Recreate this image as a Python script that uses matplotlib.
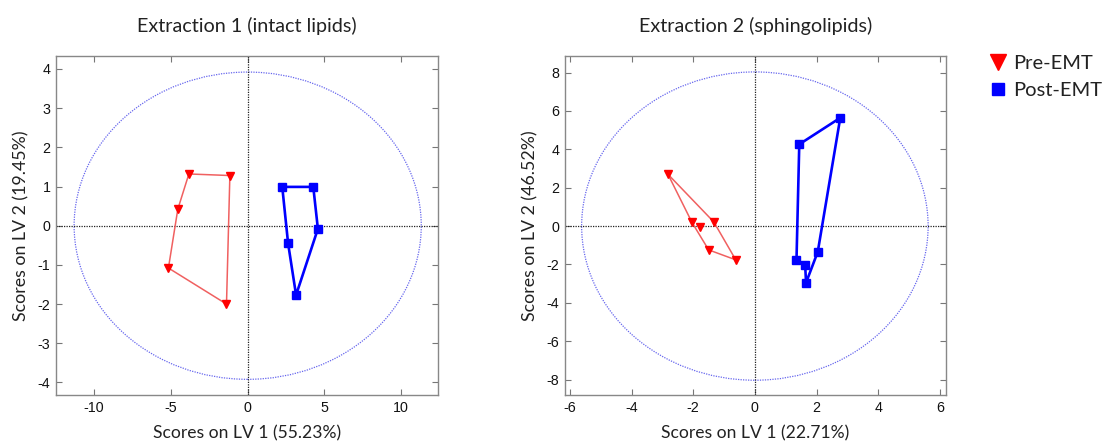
import matplotlib
matplotlib.use("Agg")
import matplotlib.pyplot as plt
from matplotlib.patches import Ellipse
from matplotlib.lines import Line2D

# ---- data ----
titles = ["Extraction 1 (intact lipids)", "Extraction 2 (sphingolipids)"]
xlabels = ["Scores on LV 1 (55.23%)", "Scores on LV 1 (22.71%)"]
ylabels = ["Scores on LV 2 (19.45%)", "Scores on LV 2 (46.52%)"]
legend_labels = ["Pre-EMT", "Post-EMT"]

# Extraction 1 (points listed in outline order)
pre1_x = [-3.83, -1.16, -1.38, -5.16, -4.55]
pre1_y = [1.32, 1.28, -2.00, -1.08, 0.42]
post1_x = [2.25, 4.27, 4.57, 3.15, 2.63]
post1_y = [0.99, 0.99, -0.08, -1.77, -0.45]

# Extraction 2 (outline order) + interior points
pre2_x = [-2.82, -1.33, -0.62, -1.50, -2.04]
pre2_y = [2.70, 0.21, -1.76, -1.24, 0.19]
pre2_in_x = [-1.79]
pre2_in_y = [-0.05]
post2_x = [1.44, 2.77, 2.04, 1.66, 1.63, 1.35]
post2_y = [4.26, 5.64, -1.34, -2.95, -2.01, -1.75]

# confidence ellipse half-axes
ell1 = (11.3, 3.92)
ell2 = (5.62, 8.03)

xticks1 = [-10, -5, 0, 5, 10]
yticks1 = [-4, -3, -2, -1, 0, 1, 2, 3, 4]
xticks2 = [-6, -4, -2, 0, 2, 4, 6]
yticks2 = [-8, -6, -4, -2, 0, 2, 4, 6, 8]
xlim1, ylim1 = (-12.48, 12.39), (-4.32, 4.33)
xlim2, ylim2 = (-6.16, 6.20), (-8.80, 8.86)

LABEL_FONT = ["Lato", "DejaVu Sans"]
TICK_FONT = ["Liberation Sans", "DejaVu Sans"]
RED = "#ff0000"
RED_LINE = "#f06060"
BLUE = "#0000ff"

fig = plt.figure(figsize=(11.04, 4.41), dpi=100)
ax1 = fig.add_axes([56/1104, 1-395/441, (438-56)/1104, (395-56)/441])
ax2 = fig.add_axes([565/1104, 1-395/441, (946-565)/1104, (395-56)/441])


def closed(v):
    return list(v) + [v[0]]


def panel(ax, prex, prey, postx, posty, ell, xt, yt, xl, yl, title, xlab, ylab,
          inx=None, iny=None):
    ax.add_patch(Ellipse((0, 0), 2*ell[0], 2*ell[1], fill=False,
                         edgecolor="#6666ee", linestyle=(0, (1, 1)), linewidth=0.9))
    ax.axhline(0, color="#222222", linestyle=(0, (1, 1)), linewidth=0.9)
    ax.axvline(0, color="#222222", linestyle=(0, (1, 1)), linewidth=0.9)
    ax.plot(closed(prex), closed(prey), color=RED_LINE, linewidth=1.1, zorder=3)
    ax.plot(prex, prey, linestyle="none", marker="v", color=RED,
            markersize=6, zorder=4)
    if inx is not None:
        ax.plot(inx, iny, linestyle="none", marker="v", color=RED,
                markersize=6, zorder=4)
    ax.plot(closed(postx), closed(posty), color=BLUE, linewidth=1.9, zorder=3)
    ax.plot(postx, posty, linestyle="none", marker="s", color=BLUE,
            markersize=6.3, zorder=4)
    ax.set_xlim(*xl)
    ax.set_ylim(*yl)
    ax.set_xticks(xt)
    ax.set_yticks(yt)
    ax.set_xticklabels([str(v) for v in xt], family=TICK_FONT, fontsize=10.3)
    ax.set_yticklabels([str(v) for v in yt], family=TICK_FONT, fontsize=10.3)
    ax.tick_params(direction="in", top=True, right=True, length=4,
                   color="#777777", labelcolor="#111111", pad=4)
    for s in ax.spines.values():
        s.set_color("#888888")
        s.set_linewidth(1.0)
    ax.set_title(title, family=LABEL_FONT, fontsize=14.2, pad=17, color="#222222")
    ax.set_xlabel(xlab, family=LABEL_FONT, fontsize=12.6, labelpad=8, color="#222222")
    ax.set_ylabel(ylab, family=LABEL_FONT, fontsize=12.8, labelpad=6, color="#222222")


panel(ax1, pre1_x, pre1_y, post1_x, post1_y, ell1, xticks1, yticks1, xlim1, ylim1,
      titles[0], xlabels[0], ylabels[0])
panel(ax2, pre2_x, pre2_y, post2_x, post2_y, ell2, xticks2, yticks2, xlim2, ylim2,
      titles[1], xlabels[1], ylabels[1], pre2_in_x, pre2_in_y)

handles = [Line2D([], [], linestyle="none", marker="v", color=RED, markersize=11),
           Line2D([], [], linestyle="none", marker="s", color=BLUE, markersize=8.5)]
fig.legend(handles, legend_labels, loc="upper left",
           bbox_to_anchor=(988/1104, 1-55/441), frameon=False,
           prop={"family": LABEL_FONT, "size": 14.5}, handletextpad=0.25,
           labelspacing=0.5, handlelength=1.0, borderaxespad=0, borderpad=0,
           labelcolor="#222222")

fig.savefig("out.png", dpi=100)
